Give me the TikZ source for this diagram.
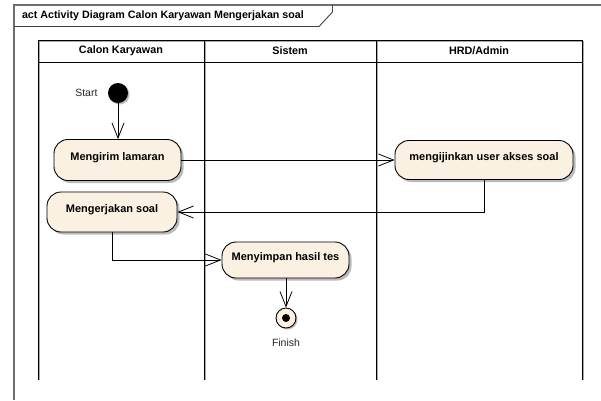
\documentclass[tikz,border=0pt]{standalone}
\usepackage{fontspec}
\setmainfont{Liberation Sans}
\usetikzlibrary{arrows.meta,shadows}
\definecolor{actfill}{RGB}{251,241,226}
\definecolor{framegray}{RGB}{110,110,110}
\definecolor{shadowgray}{RGB}{170,170,170}
\tikzset{
  action/.style={draw=black, line width=0.9pt, fill=actfill, rounded corners=14pt,
    font=\fontsize{11}{12}\selectfont\bfseries, text height=8pt, text depth=6.5pt,
    inner sep=0pt,
    drop shadow={shadow xshift=2.5pt, shadow yshift=-2.5pt, fill=shadowgray, opacity=0.8}},
  flow/.style={draw=black, line width=0.8pt, -{Straight Barb[length=15pt,width=12pt,line width=0.8pt]}},
  lanehead/.style={font=\fontsize{10.8}{12}\selectfont\bfseries},
  laneline/.style={draw=black, line width=1pt},
  laneshade/.style={draw=shadowgray, line width=1pt},
  plain/.style={font=\fontsize{10.5}{12}\selectfont, text=black!85}
}
\begin{document}
\begin{tikzpicture}[x=1pt,y=-1pt]
\useasboundingbox (0,0) rectangle (601,400);
% frame with name tab
\draw[framegray, line width=1.4pt] (14,400) -- (14,5) -- (601,5);
\draw[framegray!60!black, line width=0.9pt] (14,26.5) -- (319,26.5) -- (332.5,12) -- (332.5,5);
\node[anchor=west, font=\fontsize{10.7}{12}\selectfont\bfseries] (title) at (18.5,16)
  {act Activity Diagram Calon Karyawan Mengerjakan soal};
% swimlanes (shadow strokes first)
\foreach \xx in {38,204,376,582} \draw[laneshade] (\xx+1.3,41.3) -- (\xx+1.3,380);
\draw[laneshade] (39,41.3) -- (583.3,41.3);
\draw[laneline] (38,380) -- (38,40) -- (582,40) -- (582,380);
\draw[laneline] (204,40) -- (204,380);
\draw[laneline] (376,40) -- (376,380);
\draw[laneline] (38,62) -- (582,62);
\node[lanehead] (h1) at (121,51) {Calon Karyawan};
\node[lanehead] (h2) at (290,51) {Sistem};
\node[lanehead] (h3) at (479,51) {HRD/Admin};
% initial and final nodes
\node[circle, fill=black, minimum size=20pt, inner sep=0pt,
  drop shadow={shadow xshift=1.5pt, shadow yshift=-1.5pt, fill=shadowgray, opacity=0.8}] (start) at (118,93) {};
\node[plain, anchor=east] (startlbl) at (101,93) {Start};
\node[circle, draw=black, line width=0.9pt, fill=actfill, minimum size=20pt, inner sep=0pt,
  drop shadow={shadow xshift=1.5pt, shadow yshift=-1.5pt, fill=shadowgray, opacity=0.8}] (finish) at (286,318) {};
\node[circle, fill=black, minimum size=8pt, inner sep=0pt] (finishdot) at (finish.center) {};
\node[plain] (finishlbl) at (286,343) {Finish};
% actions
\node[action, minimum width=127pt, minimum height=41pt] (m1) at (117.5,160) {Mengirim lamaran};
\node[action, minimum width=178pt, minimum height=39pt] (m2) at (484,160) {mengijinkan user akses soal};
\node[action, minimum width=130pt, minimum height=40pt] (m3) at (112,212) {Mengerjakan soal};
\node[action, minimum width=127pt, minimum height=36pt] (m4) at (285.5,260) {Menyimpan hasil tes};
% control flows
\draw[flow] (start) -- (start |- m1.north);
\draw[flow] (m1.east) -- (m2.west);
\draw[flow] (m2.south) |- (m3.east);
\draw[flow] (m3.south) |- (m4.west);
\draw[flow] (m4.south -| finish) -- (finish.north);
\end{tikzpicture}
\end{document}
